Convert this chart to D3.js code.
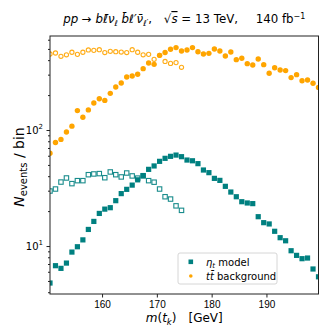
<!DOCTYPE html>
<html>
<head>
<meta charset="utf-8">
<script src="https://cdn.jsdelivr.net/npm/d3@7"></script>
<style>
  body { margin: 0; background: #fff; }
  svg { font-family: "DejaVu Sans", sans-serif; }
</style>
</head>
<body>
<div id="chart"></div>
<script>
// bin centres [GeV]
var mass = [150.5, 151.5, 152.5, 153.5, 154.5, 155.5, 156.5, 157.5, 158.5, 159.5,
  160.5, 161.5, 162.5, 163.5, 164.5, 165.5, 166.5, 167.5, 168.5, 169.5,
  170.5, 171.5, 172.5, 173.5, 174.5, 175.5, 176.5, 177.5, 178.5, 179.5,
  180.5, 181.5, 182.5, 183.5, 184.5, 185.5, 186.5, 187.5, 188.5, 189.5,
  190.5, 191.5, 192.5, 193.5, 194.5, 195.5, 196.5, 197.5, 198.5, 199.5];

// eta_t model (filled squares)
var etaModel = [4.8, 6.77, 6.42, 7.13, 8.87, 9.86, 11.3, 13.9, 16.3, 19.1,
  20.8, 21.4, 24.6, 28.3, 30.8, 33.5, 37.2, 40.5, 45.8, 49,
  53.7, 57, 59.3, 60.8, 58.9, 55.1, 54.3, 51.3, 45.2, 42.9,
  38.3, 36.8, 32.7, 29.2, 26.6, 24.1, 23.5, 23.2, 17.9, 15.9,
  15.5, 13.4, 11.8, 11.1, 9.11, 8.31, 7.78, 7.88, 6.34, 5.43];

// ttbar background (filled circles)
var ttBkg = [63, 78, 83, 96, 108, 147, 129, 149, 171, 186,
  180, 207, 235, 254, 286, 292, 302, 338, 378, 368,
  440, 465, 496, 513, 480, 490, 513, 473, 452, 458,
  499, 480, 434, 470, 404, 415, 373, 363, 409, 366,
  308, 344, 329, 325, 283, 300, 266, 270, 253, 233];

// open markers, first 25 bins only
var etaOpen = [29.8, 31, 35.6, 38.6, 34.5, 36.6, 36.6, 41.2, 41.8, 42.1,
  38.8, 43.5, 41.2, 39.4, 42.6, 40.2, 38.5, 40.2, 36.6, 35.5,
  31, 26.6, 25.4, 22.2, 20.3];
var ttOpen = [452, 461, 432, 445, 468, 449, 468, 490, 486, 492,
  465, 477, 473, 470, 465, 492, 468, 445, 449, 407,
  440, 390, 375, 381, 347];

var xTicks = [160, 170, 180, 190];
var yMajor = [10, 100];
var yMinor = [4, 5, 6, 7, 8, 9, 20, 30, 40, 50, 60, 70, 80, 90, 200, 300, 400, 500, 600];

var teal = "#008080", orange = "#ffa500";

var W = 332, H = 332;
var m = { left: 50, top: 36, right: 13.5, bottom: 38 };
var pw = W - m.left - m.right, ph = H - m.top - m.bottom;

var svg = d3.select("#chart").append("svg")
  .attr("width", W).attr("height", H);

var x = d3.scaleLinear().domain([150.5, 199.5]).range([0, pw]);
var y = d3.scaleLog().domain([3.86, 646]).range([ph, 0]);

svg.append("defs").append("clipPath").attr("id", "clip")
  .append("rect").attr("width", pw).attr("height", ph);

var g = svg.append("g").attr("transform", "translate(" + m.left + "," + m.top + ")");

// x axis
var xAxis = g.append("g").attr("transform", "translate(0," + ph + ")")
  .call(d3.axisBottom(x).tickValues(xTicks).tickSize(3.5).tickPadding(3.5).tickFormat(d3.format("d")));
xAxis.select(".domain").remove();
xAxis.selectAll("text").attr("font-size", 10).attr("fill", "#000");

// y axis, major + minor ticks
var yAxis = g.append("g")
  .call(d3.axisLeft(y).tickValues(yMajor).tickSize(3.5).tickPadding(3.5).tickFormat(""));
yAxis.select(".domain").remove();
g.append("g")
  .call(d3.axisLeft(y).tickValues(yMinor).tickSize(2).tickFormat(""))
  .select(".domain").remove();

yMajor.forEach(function (v) {
  var t = g.append("text")
    .attr("x", -7).attr("y", y(v) + 3.5)
    .attr("text-anchor", "end").attr("font-size", 10);
  t.append("tspan").text("10");
  t.append("tspan").attr("font-size", 7).attr("dy", -4.5).text(Math.round(Math.log10(v)));
});

// open markers first, filled on top
var pts = g.append("g").attr("clip-path", "url(#clip)");

pts.selectAll(".eo").data(etaOpen).enter().append("rect")
  .attr("x", function (d, i) { return x(mass[i]) - 2.2; })
  .attr("y", function (d) { return y(d) - 2.2; })
  .attr("width", 4.4).attr("height", 4.4)
  .attr("fill", "#fff").attr("stroke", teal).attr("stroke-width", 1.1).attr("opacity", 0.9);

pts.selectAll(".to").data(ttOpen).enter().append("circle")
  .attr("cx", function (d, i) { return x(mass[i]); })
  .attr("cy", function (d) { return y(d); })
  .attr("r", 2.1)
  .attr("fill", "#fff").attr("stroke", orange).attr("stroke-width", 1.1).attr("opacity", 0.9);

pts.selectAll(".ef").data(etaModel).enter().append("rect")
  .attr("x", function (d, i) { return x(mass[i]) - 2.6; })
  .attr("y", function (d) { return y(d) - 2.6; })
  .attr("width", 5.2).attr("height", 5.2)
  .attr("fill", teal);

pts.selectAll(".tf").data(ttBkg).enter().append("circle")
  .attr("cx", function (d, i) { return x(mass[i]); })
  .attr("cy", function (d) { return y(d); })
  .attr("r", 2.7)
  .attr("fill", orange);

// frame
g.append("rect").attr("width", pw).attr("height", ph)
  .attr("fill", "none").attr("stroke", "#222").attr("stroke-width", 1);

g.selectAll(".tick line").attr("stroke", "#222");

// legend
var lg = g.append("g").attr("transform", "translate(" + (178 - m.left) + "," + (253 - m.top) + ")");
lg.append("rect").attr("width", 99).attr("height", 31).attr("rx", 2)
  .attr("fill", "#fff").attr("fill-opacity", 0.8).attr("stroke", "#ccc").attr("stroke-width", 0.8);
lg.append("rect").attr("x", 10.5).attr("y", 6.5).attr("width", 4.6).attr("height", 4.6).attr("fill", teal);
lg.append("circle").attr("cx", 12.8).attr("cy", 23).attr("r", 1.8).attr("fill", orange);
var l1 = lg.append("text").attr("x", 28).attr("y", 12.5).attr("font-size", 10);
l1.append("tspan").attr("font-style", "italic").text("η");
l1.append("tspan").attr("font-style", "italic").attr("font-size", 7).attr("dy", 2).text("t");
l1.append("tspan").attr("dy", -2).text(" model");
var l2 = lg.append("text").attr("x", 28).attr("y", 27).attr("font-size", 10);
l2.append("tspan").attr("font-style", "italic").text("tt\u0304");
l2.append("tspan").text(" background");

// axis labels
var xl = svg.append("text").attr("x", m.left + pw / 2).attr("y", 322)
  .attr("text-anchor", "middle").attr("font-size", 12);
xl.append("tspan").attr("font-style", "italic").text("m");
xl.append("tspan").text("(");
xl.append("tspan").attr("font-style", "italic").text("t");
xl.append("tspan").attr("font-style", "italic").attr("font-size", 8.5).attr("dy", 2.5).text("k");
xl.append("tspan").attr("dy", -2.5).text(")\u2003[GeV]");

var yl = svg.append("text")
  .attr("transform", "translate(23.5," + (m.top + ph / 2 + 2) + ") rotate(-90)")
  .attr("text-anchor", "middle").attr("font-size", 14);
yl.append("tspan").attr("font-style", "italic").text("N");
yl.append("tspan").attr("font-size", 10).attr("dy", 3).text("events");
yl.append("tspan").attr("dy", -3).text(" / bin");

// title
var tt = svg.append("text").attr("x", m.left + pw / 2).attr("y", 23)
  .attr("text-anchor", "middle").attr("font-size", 11.8);
tt.append("tspan").attr("font-style", "italic").text("pp");
tt.append("tspan").text(" \u2192 ");
tt.append("tspan").attr("font-style", "italic").text("b\u2113\u0304\u03bd");
tt.append("tspan").attr("font-style", "italic").attr("font-size", 8).attr("dy", 2.5).text("\u2113");
tt.append("tspan").attr("font-style", "italic").attr("dy", -2.5).text(" b\u0304\u2113\u2032\u03bd\u0304");
tt.append("tspan").attr("font-style", "italic").attr("font-size", 8).attr("dy", 2.5).text("\u2113\u2032");
tt.append("tspan").attr("dy", -2.5).text(",\u2003\u221a");
tt.append("tspan").attr("font-style", "italic").attr("text-decoration", "overline").text("s");
tt.append("tspan").text(" = 13 TeV,\u2003\u2002140 fb");
tt.append("tspan").attr("font-size", 8).attr("dy", -4.5).text("\u22121");
</script>
</body>
</html>
